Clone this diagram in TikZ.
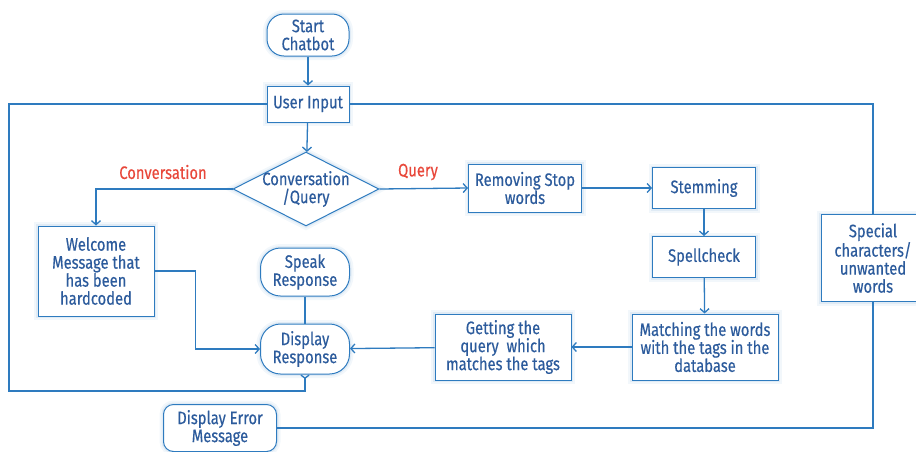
\documentclass[tikz,border=0pt]{standalone}
\usepackage{fontspec}
\setmainfont{Fira Sans}[FakeStretch=0.82,FakeBold=0.4]
\usepackage{tikz}
\usetikzlibrary{positioning,shapes.geometric,arrows.meta}
\definecolor{flow}{HTML}{2E7BBF}
\definecolor{ink}{HTML}{2C5B9C}
\definecolor{tag}{HTML}{E8483B}

\begin{document}
\begin{tikzpicture}[x=1pt,y=-1pt,line width=1.3pt,draw=flow,
	>={Straight Barb[length=4pt,width=9pt]},
	glow/.style={preaction={draw=flow!50,line width=8pt,opacity=0.12},
		preaction={draw=flow!50,line width=4pt,opacity=0.2}},
	box/.style={draw=flow,fill=white,line width=1pt,glow,text=ink,align=center,
		inner sep=1pt,font=\fontsize{18}{18}\selectfont},
	term/.style={box,rounded corners=#1},
	dec/.style={box,diamond,inner sep=-3pt,shape aspect=2},
	lab/.style={text=tag,font=\fontsize{18}{18}\selectfont}]
				\useasboundingbox (0,0) rectangle (916,451);
				\node(start)[term=17pt,minimum width=82,minimum height=42] at (308,35) {Start\\Chatbot};
				\node(input)[box,minimum width=82,minimum height=36] at (308,104) {User Input};
				\node(cq)[dec,minimum width=146,minimum height=74] at (306,189) {Conversation\\/Query};
				\node(lconv)[lab] at (163,172) {Conversation};
				\node(lquery)[lab] at (418,172) {Query};
				\node(welcome)[box,minimum width=116,minimum height=90] at (96,271) {Welcome\\Message that\\has been\\hardcoded};
				\node(speak)[term=20pt,minimum width=89,minimum height=48] at (305,272) {Speak\\Response};
				\node(dresp)[term=20pt,minimum width=89,minimum height=50] at (305,349) {Display\\Response};
				\node(rsw)[box,minimum width=113,minimum height=48] at (525,188) {Removing Stop\\words};
				\node(stem)[box,minimum width=103,minimum height=41] at (704,188) {Stemming};
				\node(spell)[box,minimum width=103,minimum height=41] at (704,257) {Spellcheck};
				\node(match)[box,minimum width=146,minimum height=66] at (705,347) {Matching the words\\with the tags in the\\database};
				\node(get)[box,minimum width=136,minimum height=66] at (503,347) {Getting the\\query\ \ which\\matches the tags};
				\node(spec)[box,minimum width=104,minimum height=87] at (873,258) {Special\\characters/\\unwanted\\words};
				\node(derr)[term=10pt,minimum width=113,minimum height=47] at (220,428) {Display Error\\Message};
				\coordinate(loop) at (9,391);
			 	\draw[->](start) -- (input);
			 	\draw[->](input) -- (cq);
			 	\draw[->](cq.west) -| (welcome.north);
			 	\draw[->](cq.east) -- (rsw.west);
			 	\draw[->](rsw) -- (stem);
			 	\draw[->](stem) -- (spell);
			 	\draw[->](spell) -- (match);
			 	\draw[->](match) -- (get);
			 	\draw[->](get) -- (dresp);
			 	\draw(speak) -- (dresp);
			 	\draw[->](welcome.east) -- ++(41,0) |- (dresp.west);
			 	\draw[{Straight Barb[reversed,length=3pt,width=8pt]}-](dresp.south) |- (loop) |- (input.west);
			 	\draw(input.east) -| (spec.north);
			 	\draw(spec.south) |- (derr.east);
			\end{tikzpicture}
\end{document}
